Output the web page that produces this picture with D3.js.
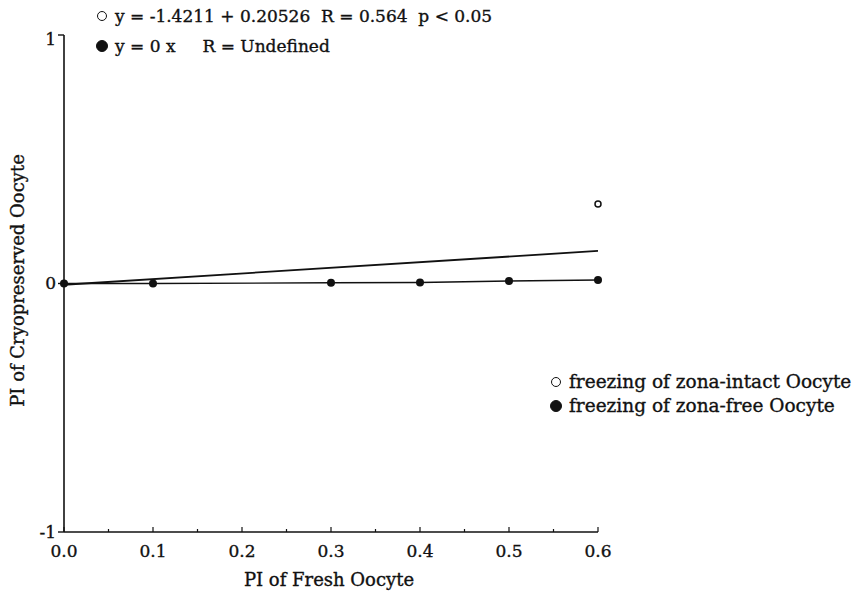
<!DOCTYPE html>
<html>
<head>
<meta charset="utf-8">
<script src="https://cdn.jsdelivr.net/npm/d3@7"></script>
<style>
  body { margin: 0; background: #fff; }
  text { font-family: "DejaVu Serif", "Liberation Serif", serif; fill: #111; stroke: #111; stroke-width: 0.35px; white-space: pre; }
</style>
</head>
<body>
<div id="chart-area"></div>
<script>
// data
const freshPI = [0.0, 0.1, 0.3, 0.4, 0.5, 0.6];
const zonaFreePI = [0.0, 0.0, 0.003, 0.004, 0.01, 0.014];
const zonaIntactX = [0.6];
const zonaIntactPI = [0.32];
const intactFitX = [0.0, 0.6];
const intactFitY = [-0.005, 0.131];
const xTicks = [0.0, 0.1, 0.2, 0.3, 0.4, 0.5, 0.6];
const yTicks = [-1, 0, 1];
const headerLines = ["y = -1.4211 + 0.20526  R = 0.564  p < 0.05", "y = 0 x     R = Undefined"];
const legendLabels = ["freezing of zona-intact Oocyte", "freezing of zona-free Oocyte"];

let margin = { top: 35, right: 261, bottom: 61, left: 64 },
  width = 859 - margin.left - margin.right,
  height = 593 - margin.top - margin.bottom;

let svg = d3.select("#chart-area").append("svg")
  .attr("width", 859).attr("height", 593);

let g = svg.append("g")
  .attr("transform", "translate(" + margin.left + "," + margin.top + ")");

let x = d3.scaleLinear().domain([0, 0.6]).range([0, width]);
let y = d3.scaleLinear().domain([-1, 1]).range([height, 0]);

// AXIS
g.append("line").attr("x1", 0).attr("x2", 0).attr("y1", 0).attr("y2", height)
  .attr("stroke", "#111").attr("stroke-width", 1.6);
g.append("line").attr("x1", 0).attr("x2", width).attr("y1", height).attr("y2", height)
  .attr("stroke", "#111").attr("stroke-width", 1.6);

// y ticks
g.selectAll(".ytick").data(yTicks).enter().append("line")
  .attr("x1", -6).attr("x2", d => d === 0 ? 4 : 0)
  .attr("y1", d => y(d)).attr("y2", d => y(d))
  .attr("stroke", "#111").attr("stroke-width", 1.4);
g.selectAll(".ylab").data(yTicks).enter().append("text")
  .attr("x", -8).attr("y", d => y(d))
  .attr("dy", d => d === 1 ? "0.6em" : "0.35em")
  .attr("text-anchor", "end").style("font-size", "17px")
  .text(d => d);

// x ticks, majors and halves
let minor = d3.range(0, 0.6001, 0.05);
g.selectAll(".xtick").data(minor).enter().append("line")
  .attr("x1", d => x(d)).attr("x2", d => x(d))
  .attr("y1", height).attr("y2", (d, i) => height - (i % 2 === 0 ? 5 : 3))
  .attr("stroke", "#111").attr("stroke-width", 1.2);
g.selectAll(".xlab").data(xTicks).enter().append("text")
  .attr("x", d => x(d)).attr("y", height + 25)
  .attr("text-anchor", "middle").style("font-size", "17px")
  .text(d => d.toFixed(1));

// axis titles
svg.append("text").attr("x", margin.left + x(0.3) - 2).attr("y", 586)
  .attr("text-anchor", "middle").style("font-size", "18px")
  .text("PI of Fresh Oocyte");
svg.append("text")
  .attr("transform", "translate(24," + (margin.top + y(0) - 3) + ") rotate(-90)")
  .attr("text-anchor", "middle").style("font-size", "18px")
  .text("PI of Cryopreserved Oocyte");

// fit lines
g.append("line")
  .attr("x1", x(intactFitX[0])).attr("y1", y(intactFitY[0]))
  .attr("x2", x(intactFitX[1])).attr("y2", y(intactFitY[1]))
  .attr("stroke", "#111").attr("stroke-width", 1.8);

let line = d3.line().x((d, i) => x(freshPI[i])).y(d => y(d));
g.append("path").datum(zonaFreePI).attr("d", line)
  .attr("fill", "none").attr("stroke", "#111").attr("stroke-width", 1.3);

// points
g.selectAll(".free").data(zonaFreePI).enter().append("circle")
  .attr("cx", (d, i) => x(freshPI[i])).attr("cy", d => y(d))
  .attr("r", 4).attr("fill", "#111");
g.selectAll(".intact").data(zonaIntactPI).enter().append("circle")
  .attr("cx", (d, i) => x(zonaIntactX[i])).attr("cy", d => y(d))
  .attr("r", 3).attr("fill", "#fff").attr("stroke", "#111").attr("stroke-width", 1.5);

// header equations
headerLines.forEach(function(t, i) {
  let yy = 16 + i * 30;
  svg.append("circle").attr("cx", 102).attr("cy", yy).attr("r", i === 0 ? 4.5 : 5.5)
    .attr("fill", i === 0 ? "#fff" : "#111").attr("stroke", "#111").attr("stroke-width", 1);
  svg.append("text").attr("x", 115).attr("y", yy).attr("dy", "0.35em")
    .style("font-size", "17px").text(t);
});

// legend
legendLabels.forEach(function(t, i) {
  let yy = 382 + i * 24;
  svg.append("circle").attr("cx", 556).attr("cy", yy).attr("r", i === 0 ? 4.5 : 5.5)
    .attr("fill", i === 0 ? "#fff" : "#111").attr("stroke", "#111").attr("stroke-width", 1);
  svg.append("text").attr("x", 569).attr("y", yy).attr("dy", "0.35em")
    .style("font-size", "18.5px").text(t);
});
</script>
</body>
</html>
